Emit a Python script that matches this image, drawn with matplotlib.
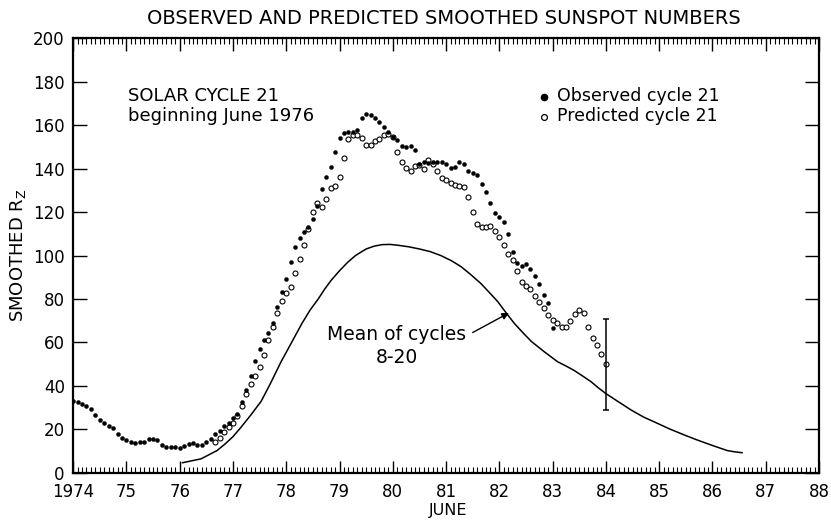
import matplotlib
matplotlib.use("Agg")
import matplotlib.pyplot as plt
from matplotlib.ticker import MultipleLocator, FixedLocator
import numpy as np

plt.rcParams['font.family'] = ['DejaVu Sans']

# ---------------- data (x axis: integer year = June of that year) ----------------
obs_start = 1974.0          # first observed month (June 1974)
observed = [33.2, 32.5, 31.6, 30.8, 29.3, 26.7, 24.4, 22.8, 21.6, 20.5,
            17.9, 16.0, 15.2, 14.4, 13.9, 14.1, 14.4, 15.5, 15.6, 15.0,
            12.9, 11.8, 12.0, 11.8, 11.4, 12.4, 13.3, 13.8, 13.0, 13.0,
            14.2, 15.8, 17.7, 19.4, 21.5, 23.0, 25.3, 27.3, 32.6, 38.3,
            44.7, 51.3, 56.9, 61.1, 64.2, 69.1, 76.5, 83.1, 89.0, 96.9,
            104.0, 108.2, 110.7, 113.0, 116.6, 122.6, 130.4, 136.0, 140.8, 147.4,
            153.8, 156.2, 156.9, 156.6, 157.8, 163.0, 165.0, 164.5, 163.3, 161.3,
            159.0, 156.9, 154.7, 153.1, 150.4, 150.0, 150.4, 148.3, 142.3, 143.0,
            142.7, 143.0, 143.0, 143.1, 142.1, 140.1, 140.8, 143.1, 142.1, 138.9,
            138.1, 137.0, 132.9, 129.0, 124.0, 119.4, 117.9, 115.3, 109.7, 101.7,
            96.7, 95.3, 96.1, 93.7, 90.6, 87.0, 81.8, 78.2, 66.8]

pred_start = 1974.0 + 32 / 12.0   # first predicted month
predicted = [14.4, 16.0, 19.0, 21.0, 23.1, 26.2, 30.8, 36.3, 40.9, 44.7,
             48.6, 54.3, 61.1, 67.3, 73.7, 79.2, 82.9, 85.4, 91.8, 98.3,
             104.7, 112.0, 120.1, 124.3, 122.4, 126.1, 130.9, 132.1, 136.2, 144.7,
             153.4, 155.4, 155.2, 153.9, 150.8, 150.7, 152.6, 153.5, 155.2, 156.0,
             154.3, 147.7, 142.8, 140.1, 138.9, 141.2, 141.5, 139.8, 143.9, 142.0,
             138.9, 135.8, 134.7, 133.2, 132.4, 132.1, 131.3, 127.0, 120.1, 114.3,
             113.2, 113.2, 113.6, 111.3, 108.7, 104.8, 100.7, 97.9, 92.9, 88.0,
             86.0, 84.5, 81.3, 78.8, 76.0, 72.8, 70.5, 68.8, 67.0,
             67.0, 70.0, 73.0, 74.9, 73.7, 67.0, 61.9, 58.9, 54.6, 50.1]

mean_x = [1976.05, 1976.4, 1976.7, 1976.85, 1977.0, 1977.15, 1977.33, 1977.53,
          1977.7, 1977.9, 1978.1, 1978.3, 1978.45, 1978.6, 1978.72, 1978.84,
          1979.0, 1979.15, 1979.3, 1979.5, 1979.65, 1979.8, 1979.95, 1980.1,
          1980.3, 1980.5, 1980.7, 1980.9, 1981.1, 1981.28, 1981.45, 1981.65,
          1981.8, 1981.97, 1982.1, 1982.28, 1982.45, 1982.6, 1982.84, 1983.09,
          1983.25, 1983.4, 1983.55, 1983.72, 1983.85, 1984.0, 1984.2, 1984.47,
          1984.7, 1984.97, 1985.2, 1985.47, 1985.7, 1985.97, 1986.1, 1986.28,
          1986.4, 1986.56]
mean_y = [4.7, 6.5, 10.3, 13.3, 16.7, 21.0, 26.5, 33.0,
          41.0, 51.0, 60.0, 69.0, 75.0, 80.0, 84.5, 88.5,
          93.0, 96.8, 100.0, 103.0, 104.3, 105.0, 105.1, 104.7,
          104.0, 103.0, 101.8, 100.0, 97.6, 94.9, 91.5, 87.2,
          83.3, 78.8, 74.5, 68.8, 64.3, 60.5, 55.8, 51.2,
          49.2, 47.2, 44.8, 42.0, 39.3, 36.5, 33.3, 29.0,
          25.8, 22.8, 20.2, 17.5, 15.3, 12.9, 11.8, 10.3,
          9.8, 9.3]

err_x = 1984.0
err_low, err_high = 29.0, 71.0

x_ticks = list(range(1974, 1989))
x_labels = ['1974'] + [str(y % 100) for y in range(1975, 1989)]
y_ticks = list(range(0, 201, 20))

# ---------------- figure ----------------
fig = plt.figure(figsize=(8.31, 5.2), dpi=100)
ax = fig.add_axes([0.088, 0.0904, 0.8976, 0.8365])

obs_x = obs_start + np.arange(len(observed)) / 12.0
pred_x = pred_start + np.arange(len(predicted)) / 12.0

ax.plot(mean_x, mean_y, color='black', lw=1.1, solid_capstyle='round',
        solid_joinstyle='round')
ax.plot(pred_x, predicted, linestyle='none', marker='o', markersize=3.6,
        markerfacecolor='white', markeredgecolor='black', markeredgewidth=0.8)
ax.plot(obs_x, observed, linestyle='none', marker='o', markersize=2.9,
        markerfacecolor='black', markeredgecolor='black', markeredgewidth=0.3)

half = (err_high - err_low) / 2
ax.errorbar([err_x], [(err_low + err_high) / 2], yerr=[[half], [half]],
            fmt='none', ecolor='black', elinewidth=1.1, capsize=2.5, capthick=1.1)

ax.set_xlim(1974, 1988)
ax.set_ylim(0, 200)
ax.xaxis.set_major_locator(FixedLocator(x_ticks))
ax.set_xticklabels(x_labels)
ax.xaxis.set_minor_locator(MultipleLocator(1 / 12.0))
ax.yaxis.set_major_locator(FixedLocator(y_ticks))
ax.set_yticklabels([str(v) for v in y_ticks])

for s in ax.spines.values():
    s.set_linewidth(1.6)
ax.tick_params(axis='x', which='major', direction='in', length=9, width=1.0,
               top=True, bottom=True, labelsize=12, pad=7)
ax.tick_params(axis='x', which='minor', direction='in', length=4.5, width=0.8,
               top=True, bottom=True)
ax.tick_params(axis='y', which='major', direction='in', length=10, width=1.0,
               left=True, right=True, labelsize=12, pad=6)

# texts
ax.text(1975.03, 173.5, 'SOLAR CYCLE 21', fontsize=13, ha='left', va='center')
ax.text(1975.03, 164.3, 'beginning June 1976', fontsize=13, ha='left', va='center')

ax.plot([1982.83], [172.9], marker='o', markersize=4.5, color='black', linestyle='none')
ax.plot([1982.83], [163.7], marker='o', markersize=4.2, markerfacecolor='white',
        markeredgecolor='black', markeredgewidth=0.9, linestyle='none')
ax.text(1983.08, 173.2, 'Observed cycle 21', fontsize=12.5, ha='left', va='center')
ax.text(1983.08, 164.0, 'Predicted cycle 21', fontsize=12.5, ha='left', va='center')

ax.text(1980.07, 63.6, 'Mean of cycles', fontsize=13.5, ha='center', va='center')
ax.text(1980.07, 53.0, '8-20', fontsize=13.5, ha='center', va='center')
ax.annotate('', xy=(1982.18, 73.6), xytext=(1981.5, 64.6),
            arrowprops=dict(arrowstyle='-|>', color='black', lw=1.0,
                            mutation_scale=10, shrinkA=0, shrinkB=0))

fig.text(0.534, 0.965, 'OBSERVED AND PREDICTED SMOOTHED SUNSPOT NUMBERS',
         fontsize=14, ha='center', va='center')
fig.text(0.022, 0.51, r'SMOOTHED R$_{\mathrm{Z}}$', fontsize=13, rotation=90,
         ha='center', va='center')
fig.text(0.539, 0.004, 'JUNE', fontsize=11.5, ha='center', va='bottom')

fig.savefig('out.png', dpi=100)
